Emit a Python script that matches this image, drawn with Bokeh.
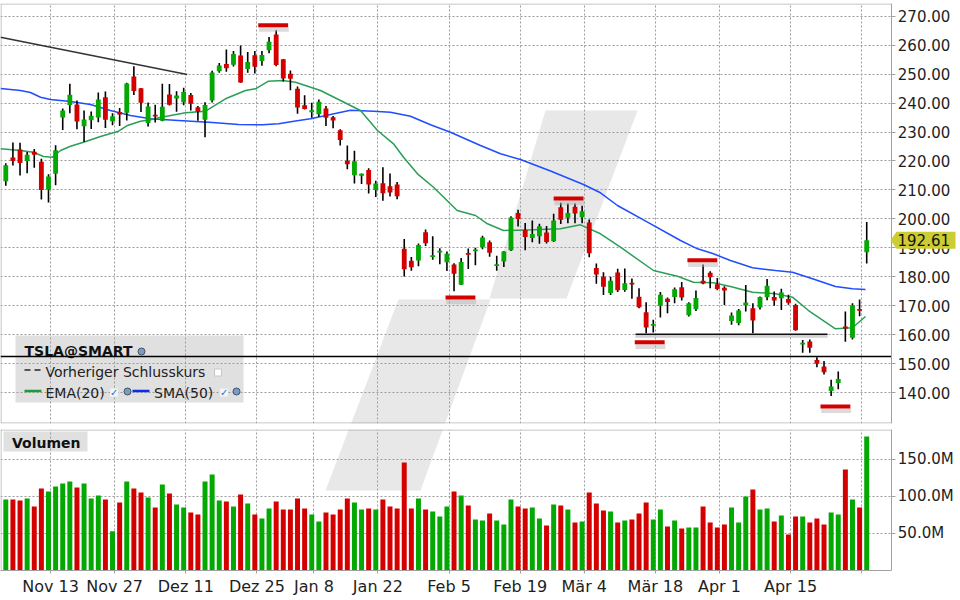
from bokeh.plotting import figure
from bokeh.layouts import column
from bokeh.models import Range1d, FixedTicker, Label, PolyAnnotation, NumeralTickFormatter
from bokeh.embed import file_html
from bokeh.resources import INLINE
from bokeh.core.properties import value

# ---------------- data ----------------
opens = [212.97, 221.15, 223.98, 219.98, 223.15, 219.75, 210.03, 215.60, 235.03, 239.29,
         239.49, 232.00, 234.04, 235.04, 242.04, 233.75, 236.89, 236.68, 249.21, 245.14,
         233.14, 235.75, 233.87, 242.92, 241.55, 240.27, 242.74, 238.55, 234.19, 240.90,
         251.00, 253.50, 253.20, 256.41, 251.80, 256.50, 254.49, 258.20, 263.66, 255.10,
         250.08, 244.98, 239.25, 236.86, 236.14, 238.11, 235.10, 230.57, 220.08, 215.10,
         214.86, 216.88, 209.99, 212.26, 211.30, 211.88, 189.70, 185.50, 185.63, 195.33,
         187.00, 188.50, 185.04, 184.26, 177.21, 188.18, 188.80, 190.18, 191.90, 183.99,
         185.30, 189.16, 202.06, 196.13, 193.36, 194.00, 195.31, 192.29, 204.04, 200.42,
         204.18, 200.52, 198.73, 183.05, 179.99, 174.35, 181.50, 175.45, 177.77, 173.05,
         167.77, 163.16, 170.02, 172.36, 173.00, 176.39, 166.69, 168.76, 178.58, 181.41,
         177.45, 176.17, 164.75, 164.02, 170.07, 169.08, 169.34, 172.91, 173.04, 172.55,
         172.34, 170.24, 156.74, 157.64, 151.25, 148.97, 140.56, 143.33, 162.84, 158.96,
         168.85, 188.42]
highs = [219.20, 226.37, 226.32, 223.12, 224.15, 220.80, 215.38, 225.40, 238.14, 246.70,
         240.88, 237.39, 237.10, 243.62, 244.01, 236.50, 238.33, 247.00, 252.75, 245.22,
         240.19, 239.37, 246.66, 246.57, 244.08, 245.27, 243.44, 238.99, 240.30, 251.20,
         253.80, 258.50, 258.00, 259.84, 257.60, 258.00, 257.97, 262.80, 265.13, 255.19,
         251.25, 245.68, 242.70, 240.12, 241.25, 238.96, 235.50, 230.93, 225.34, 223.49,
         215.67, 217.45, 213.19, 217.80, 215.65, 212.73, 193.00, 186.78, 191.48, 196.36,
         193.97, 189.88, 188.69, 184.68, 186.49, 189.79, 190.00, 194.12, 192.50, 187.26,
         188.89, 200.88, 203.17, 198.60, 199.44, 198.32, 197.57, 201.78, 205.60, 205.30,
         205.28, 204.52, 199.75, 184.59, 181.58, 180.04, 182.73, 182.87, 179.43, 176.05,
         171.17, 165.18, 174.72, 172.82, 176.25, 178.18, 171.20, 175.24, 184.25, 181.91,
         179.57, 176.75, 167.69, 168.82, 177.19, 170.86, 173.16, 179.22, 174.93, 175.88,
         173.81, 170.69, 158.19, 158.33, 152.20, 150.94, 144.44, 147.26, 167.97, 170.88,
         172.12, 198.87]
lows = [211.45, 218.40, 215.00, 215.72, 217.64, 206.68, 205.69, 211.61, 230.72, 236.45,
        230.96, 226.54, 231.02, 233.34, 231.40, 232.33, 232.10, 234.01, 242.76, 236.91,
        231.90, 233.29, 233.70, 239.17, 236.98, 239.27, 237.45, 233.87, 228.20, 240.20,
        250.50, 250.80, 252.60, 247.00, 250.50, 250.20, 252.91, 257.20, 252.71, 247.43,
        244.41, 236.32, 237.73, 234.90, 235.30, 232.04, 231.29, 225.37, 217.15, 212.18,
        212.01, 208.74, 207.56, 206.27, 207.75, 206.77, 180.06, 182.10, 183.67, 190.61,
        185.85, 184.28, 182.00, 175.01, 177.11, 182.68, 184.00, 189.48, 186.90, 182.11,
        183.35, 188.86, 197.40, 189.13, 191.95, 191.36, 191.50, 192.00, 198.26, 198.44,
        198.45, 198.50, 186.72, 177.57, 173.70, 173.70, 174.70, 174.80, 172.41, 169.15,
        160.51, 160.76, 165.90, 167.42, 170.82, 171.80, 166.30, 168.16, 177.38, 176.00,
        175.30, 170.21, 163.43, 163.28, 168.01, 160.51, 168.68, 171.92, 170.01, 168.51,
        170.36, 161.38, 153.75, 153.78, 148.70, 146.22, 138.80, 141.11, 157.51, 158.36,
        166.37, 184.54]
closes = [218.51, 219.96, 219.27, 222.18, 222.11, 209.98, 214.65, 223.71, 237.41, 242.84,
          233.59, 234.30, 235.60, 241.20, 234.21, 235.45, 236.08, 246.72, 244.14, 240.08,
          238.83, 235.58, 238.72, 239.37, 242.64, 243.84, 239.74, 237.01, 239.29, 250.55,
          253.00, 252.00, 256.90, 247.14, 254.20, 252.50, 256.61, 261.20, 253.18, 248.48,
          248.42, 238.45, 237.93, 237.49, 240.45, 234.96, 233.94, 227.22, 218.89, 219.91,
          215.55, 211.88, 212.19, 208.80, 209.14, 207.83, 182.63, 183.25, 190.93, 191.59,
          187.29, 188.86, 187.91, 181.06, 185.10, 187.58, 189.40, 193.57, 188.30, 184.02,
          188.71, 200.45, 199.95, 193.76, 194.77, 197.41, 191.97, 199.40, 199.73, 202.04,
          201.88, 202.64, 188.14, 180.74, 176.54, 178.65, 175.34, 177.77, 177.54, 169.48,
          162.50, 163.57, 173.80, 171.32, 175.66, 172.82, 170.83, 172.63, 177.67, 179.83,
          175.79, 175.22, 166.63, 168.38, 171.11, 164.90, 172.98, 176.88, 171.76, 174.60,
          171.05, 161.48, 157.11, 155.45, 149.93, 147.05, 142.05, 144.68, 162.13, 170.18,
          168.29, 192.61]
volumes_m = [95.3, 95.3, 94.0, 96.7, 85.9, 110.2, 106.2, 112.9, 117.0, 119.7,
             111.6, 117.0, 96.7, 100.8, 95.3, 52.2, 91.3, 119.7, 110.2, 104.8,
             98.0, 84.5, 115.6, 103.4, 88.6, 84.5, 77.8, 75.1, 119.7, 129.1,
             94.0, 92.6, 85.9, 102.1, 89.9, 75.1, 69.7, 83.2, 92.6, 81.9,
             81.9, 96.7, 83.2, 75.1, 65.7, 77.8, 75.1, 81.9, 96.7, 91.3,
             81.9, 83.2, 81.9, 95.3, 85.9, 83.2, 145.3, 83.2, 96.7, 81.9,
             79.2, 72.4, 85.9, 106.2, 100.8, 87.2, 68.4, 67.0, 76.5, 67.0,
             61.6, 95.3, 85.9, 83.2, 84.5, 69.7, 60.2, 88.6, 87.2, 81.9,
             64.3, 65.7, 104.8, 89.9, 80.5, 79.2, 64.3, 67.0, 68.4, 76.5,
             91.3, 68.4, 81.9, 58.9, 67.0, 56.2, 57.5, 57.5, 85.9, 64.3,
             57.5, 61.6, 84.5, 64.3, 99.4, 108.8, 81.9, 83.2, 65.7, 73.8,
             48.1, 72.4, 72.4, 64.3, 69.7, 61.6, 77.8, 75.1, 135.8, 95.3,
             84.5, 180.4]

# indicator lines (vertices; x = bar index)
ema20_x = [-0.745, 2.07, 3.89, 5.30, 6.56, 7.69, 9.09, 10.92, 13.31, 15.84, 17.10, 18.93, 20.34,
           21.46, 25.26, 28.07, 30.88, 33.69, 35.09, 36.92, 38.89, 40.72, 44.23, 47.04, 49.85,
           52.24, 54.49, 55.90, 57.86, 60.11, 63.44, 66.02, 67.70, 69.95, 74.17, 77.96, 80.77,
           83.58, 86.39, 91.03, 94.40, 96.65, 99.46, 101.85, 104.95, 108.18, 110.57, 112.82,
           116.61, 119.0, 120.83]
ema20_y = [224.20, 223.61, 223.02, 221.54, 221.30, 223.61, 225.09, 226.48, 228.45, 230.28, 232.25,
           233.73, 234.21, 234.91, 236.63, 237.18, 241.47, 244.34, 244.92, 247.55, 247.79, 247.20,
           244.34, 240.88, 237.43, 230.52, 225.92, 221.30, 215.56, 210.93, 202.88, 201.16, 198.29,
           195.98, 196.22, 196.56, 197.94, 194.84, 190.21, 182.16, 180.19, 178.12, 177.91, 176.63,
           174.66, 174.11, 172.94, 168.34, 162.02, 162.37, 166.27]
sma50_x = [-0.745, 2.07, 3.47, 4.88, 6.28, 9.09, 11.90, 14.71, 17.53, 20.34, 24.27, 29.05, 32.71,
           36.08, 38.33, 40.72, 42.83, 45.64, 48.45, 51.68, 54.07, 56.88, 59.69, 62.50, 66.72,
           69.53, 72.34, 76.56, 81.19, 83.58, 85.97, 90.19, 94.83, 97.22, 99.46, 101.85, 104.95,
           108.18, 110.57, 113.38, 116.61, 119.0, 120.83]
sma50_y = [245.03, 244.34, 243.65, 242.02, 241.23, 240.54, 239.50, 237.43, 235.70, 234.56, 233.97,
           233.28, 232.59, 232.49, 232.83, 233.80, 234.56, 236.05, 237.53, 237.18, 236.84, 235.46,
           232.49, 229.93, 225.34, 222.47, 220.50, 216.53, 211.87, 209.00, 204.61, 198.84, 192.52,
           189.65, 187.93, 185.61, 183.09, 182.16, 181.57, 179.29, 176.63, 175.84, 175.60]

# drawn annotations
marker_x = [37.58, 63.9, 79.1, 97.9, 90.5, 116.6]
marker_y = [266.9, 172.8, 207.0, 185.7, 157.35, 135.2]
trend_x = [-0.745, 25.5]
trend_y = [262.75, 249.9]
support_x = [88.5, 115.5]
support_y = 160.15
prev_close = 152.45
last_price = 192.61

# axes
tick_bars = [7, 16, 26, 36, 44, 53, 63, 73, 82, 92, 101, 111, 121]
tick_labels = ["Nov 13", "Nov 27", "Dez 11", "Dez 25", "Jan 8", "Jan 22", "Feb 5",
               "Feb 19", "Mär 4", "Mär 18", "Apr 1", "Apr 15", ""]
price_ticks = [140, 150, 160, 170, 180, 190, 200, 210, 220, 230, 240, 250, 260, 270]
vol_ticks = [50, 100, 150]
vol_labels = ["50.0M", "100.0M", "150.0M"]

# ---------------- geometry / style ----------------
PPB = 7.115            # px per bar
X0 = -5.3 / PPB
X_END = X0 + 960 / PPB
AXIS_PX = 891.3
PPU = 2.895            # px per price unit
Y_TOP = 270 + (15.7 - 3) / PPU
Y_BOT = Y_TOP - 420 / PPU
PPV = 0.74             # px per million
V_TOP = (569.5 - 429) / PPV
V_BOT = V_TOP - 141 / PPV
GREEN = "#03a803"
RED = "#d40000"
GRID = "#9c9c9c"
BORDER = "#b4b4b4"
FONT = "DejaVu Sans"
TXT = "#1e1e1e"


def px2x(px):
    return X0 + px / PPB


def py2p(py):
    return Y_TOP - (py - 3) / PPU


def py2v(py):
    return V_TOP - (py - 429) / PPV


AXIS_X = px2x(AXIS_PX)

n = len(closes)
idx = list(range(n))
colors = [GREEN if c >= o else RED for o, c in zip(opens, closes)]
btop, bbot = [], []
for o, c in zip(opens, closes):
    hi, lo = max(o, c), min(o, c)
    if hi - lo < 0.6:
        m = (hi + lo) / 2
        hi, lo = m + 0.3, m - 0.3
    btop.append(hi)
    bbot.append(lo)

xr = Range1d(X0, X_END)


def style_grid(fig):
    for g in (fig.xgrid, fig.ygrid):
        g.grid_line_color = GRID
        g.grid_line_dash = "2 2"
        g.grid_line_width = 1


def style_yaxis(ax, size):
    ax.fixed_location = AXIS_X
    ax.axis_line_color = "#a0a0a0"
    ax.major_tick_line_color = "#a0a0a0"
    ax.major_tick_out = 4
    ax.major_tick_in = 0
    ax.minor_tick_line_color = None
    ax.major_label_standoff = 2
    ax.major_label_text_font = FONT
    ax.major_label_text_font_size = size
    ax.major_label_text_color = TXT


# ---------------- price figure ----------------
p = figure(width=960, height=426, x_range=xr, y_range=Range1d(Y_BOT, Y_TOP),
           x_axis_location=None, y_axis_location="right", toolbar_location=None,
           output_backend="svg", min_border_left=0, min_border_right=0,
           min_border_top=3, min_border_bottom=3, outline_line_color=None)

# watermark
wm_upper = [(545, 110), (637, 110), (566, 298), (489, 298)]
wm_lower = [(398, 299), (490, 299), (420, 490), (325, 490)]
p.patches(xs=[[px2x(a) for a, b in wm_upper], [px2x(a) for a, b in wm_lower]],
          ys=[[py2p(b) for a, b in wm_upper], [py2p(b) for a, b in wm_lower]],
          fill_color="#e8e8e8", line_color=None, level="image")

# legend box background (under grid)
p.quad(left=[px2x(15)], right=[px2x(243)], top=[py2p(335)], bottom=[py2p(402)],
       fill_color="#e0e0e0", line_color=None, level="image")

p.xgrid.ticker = FixedTicker(ticks=[b - 0.7 for b in tick_bars])
p.ygrid.ticker = FixedTicker(ticks=price_ticks)
style_grid(p)

ya = p.yaxis[0]
ya.ticker = FixedTicker(ticks=price_ticks)
ya.formatter = NumeralTickFormatter(format="0.00")
style_yaxis(ya, "15px")

# blank area right of the axis, panel borders
p.quad(left=[AXIS_X], right=[X_END + 1], top=[Y_TOP + 5], bottom=[Y_BOT - 5],
       fill_color="white", line_color=None)
p.line([X0, AXIS_X], [py2p(3.5)] * 2, line_color=BORDER, line_width=1)
p.line([X0, AXIS_X], [py2p(422.5)] * 2, line_color=BORDER, line_width=1)
p.line([px2x(0.5)] * 2, [Y_BOT, Y_TOP], line_color=BORDER, line_width=1)

# indicators
p.line(sma50_x, sma50_y, line_color="#1f4dff", line_width=1.5)
p.line(ema20_x, ema20_y, line_color="#2a9f55", line_width=1.5)

# trend line & support line
p.line(trend_x, trend_y, line_color="#333333", line_width=1.5)
p.line(support_x, [support_y - 0.7] * 2, line_color="#9a9a9a", line_width=3, line_alpha=0.45)
p.line(support_x, [support_y] * 2, line_color="#111111", line_width=1.5)

# candles
p.segment(x0=idx, y0=lows, x1=idx, y1=highs, line_color="#000000", line_width=1.6)
p.vbar(x=idx, width=0.68, top=btop, bottom=bbot, fill_color=colors, line_color=None)

# red markers with shadow
p.quad(left=[m - 2.0 for m in marker_x], right=[m + 2.2 for m in marker_x],
       top=[y - 0.7 for y in marker_y], bottom=[y - 2.3 for y in marker_y],
       fill_color="#b0b0b0", fill_alpha=0.45, line_color=None)
p.quad(left=[m - 2.1 for m in marker_x], right=[m + 2.1 for m in marker_x],
       top=[y + 0.69 for y in marker_y], bottom=[y - 0.69 for y in marker_y],
       fill_color=RED, line_color=None)

# legend contents
p.text(x=[px2x(24)], y=[py2p(350)], text=["TSLA@SMART"], text_font=value(FONT),
       text_font_size=value("14px"), text_font_style="bold", text_color="#111111",
       text_baseline="alphabetic")
p.text(x=[px2x(45), px2x(45), px2x(153.5)], y=[py2p(371), py2p(392), py2p(392)],
       text=["Vorheriger Schlusskurs", "EMA(20)", "SMA(50)"], text_font=value(FONT),
       text_font_size=value("14px"), text_color="#222222", text_baseline="alphabetic")
p.line([px2x(24), px2x(41)], [py2p(369.5)] * 2, line_color="#555555", line_width=2, line_dash="6 4")
p.line([px2x(24), px2x(41)], [py2p(390.5)] * 2, line_color="#1e9a3c", line_width=2.5)
p.line([px2x(132), px2x(149)], [py2p(390.5)] * 2, line_color="#0a2ee6", line_width=2.5)
p.scatter(x=[px2x(217.5)], y=[py2p(372)], marker="square", size=7,
          fill_color="white", line_color="#c8c8c8")
p.scatter(x=[px2x(113.5), px2x(223.5)], y=[py2p(392)] * 2, marker="square", size=8,
          fill_color="#f4f4f4", line_color=None)
p.text(x=[px2x(109.5), px2x(219.5)], y=[py2p(392)] * 2, text=["✓", "✓"],
       text_font=value(FONT), text_font_size=value("10px"), text_color="#2a6fd0",
       text_baseline="alphabetic")
p.scatter(x=[px2x(127), px2x(141), px2x(236)], y=[py2p(391), py2p(351), py2p(391)],
          marker="circle", size=7, fill_color="#7f9bbd", line_color="#3c5470", line_width=1)

# previous close line (stops at the axis)
p.line([X0, AXIS_X], [prev_close] * 2, line_color="#000000", line_width=1.5)

# last price tag on the right axis
tag_half = 8.5 / PPU
p.add_layout(PolyAnnotation(xs=[px2x(890), px2x(896), px2x(955), px2x(955), px2x(896)],
                            ys=[last_price, last_price + tag_half, last_price + tag_half,
                                last_price - tag_half, last_price - tag_half],
                            fill_color="#cccc33", fill_alpha=1.0, line_color=None))
p.add_layout(Label(x=px2x(897), y=last_price, text="192.61",
                   text_font=FONT, text_font_size="15px", text_color="#111111",
                   text_baseline="middle", text_align="left"))

# ---------------- volume figure ----------------
v = figure(width=960, height=174, x_range=xr, y_range=Range1d(V_BOT, V_TOP),
           x_axis_location="below", y_axis_location="right", toolbar_location=None,
           output_backend="svg", min_border_left=0, min_border_right=0,
           min_border_top=3, min_border_bottom=30, outline_line_color=None)

v.patches(xs=[[px2x(a) for a, b in wm_lower]], ys=[[py2v(b) for a, b in wm_lower]],
          fill_color="#e8e8e8", line_color=None, level="image")
v.quad(left=[px2x(3)], right=[px2x(87)], top=[py2v(431)], bottom=[py2v(451)],
       fill_color="#e0e0e0", line_color=None, level="image")

xt = FixedTicker(ticks=[b - 0.7 for b in tick_bars])
xa = v.xaxis[0]
xa.ticker = xt
xa.bounds = (X0, AXIS_X)
xa.major_label_overrides = {b - 0.7: lab for b, lab in zip(tick_bars, tick_labels)}
xa.axis_line_color = "#a0a0a0"
xa.major_tick_line_color = "#a0a0a0"
xa.major_tick_out = 3
xa.major_tick_in = 0
xa.minor_tick_line_color = None
xa.major_label_standoff = 3
xa.major_label_text_font = FONT
xa.major_label_text_font_size = "16px"
xa.major_label_text_color = TXT
v.xgrid.ticker = xt

va = v.yaxis[0]
va.ticker = FixedTicker(ticks=vol_ticks)
va.major_label_overrides = {t: lab for t, lab in zip(vol_ticks, vol_labels)}
style_yaxis(va, "15px")
v.ygrid.ticker = FixedTicker(ticks=vol_ticks)
style_grid(v)

v.quad(left=[AXIS_X], right=[X_END + 1], top=[V_TOP + 5], bottom=[V_BOT - 5],
       fill_color="white", line_color=None)
v.line([X0, AXIS_X], [py2v(429.5)] * 2, line_color=BORDER, line_width=1)
v.line([px2x(0.5)] * 2, [V_BOT, V_TOP], line_color=BORDER, line_width=1)

v.vbar(x=idx, width=0.7, top=volumes_m, bottom=0, fill_color=colors, line_color=None)

v.text(x=[px2x(11.5)], y=[py2v(442)], text=["Volumen"], text_font=value(FONT),
       text_font_size=value("14px"), text_font_style="bold", text_color="#111111",
       text_baseline="alphabetic")

layout = column(p, v, spacing=0)
open("out.html", "w").write(file_html(layout, INLINE))
